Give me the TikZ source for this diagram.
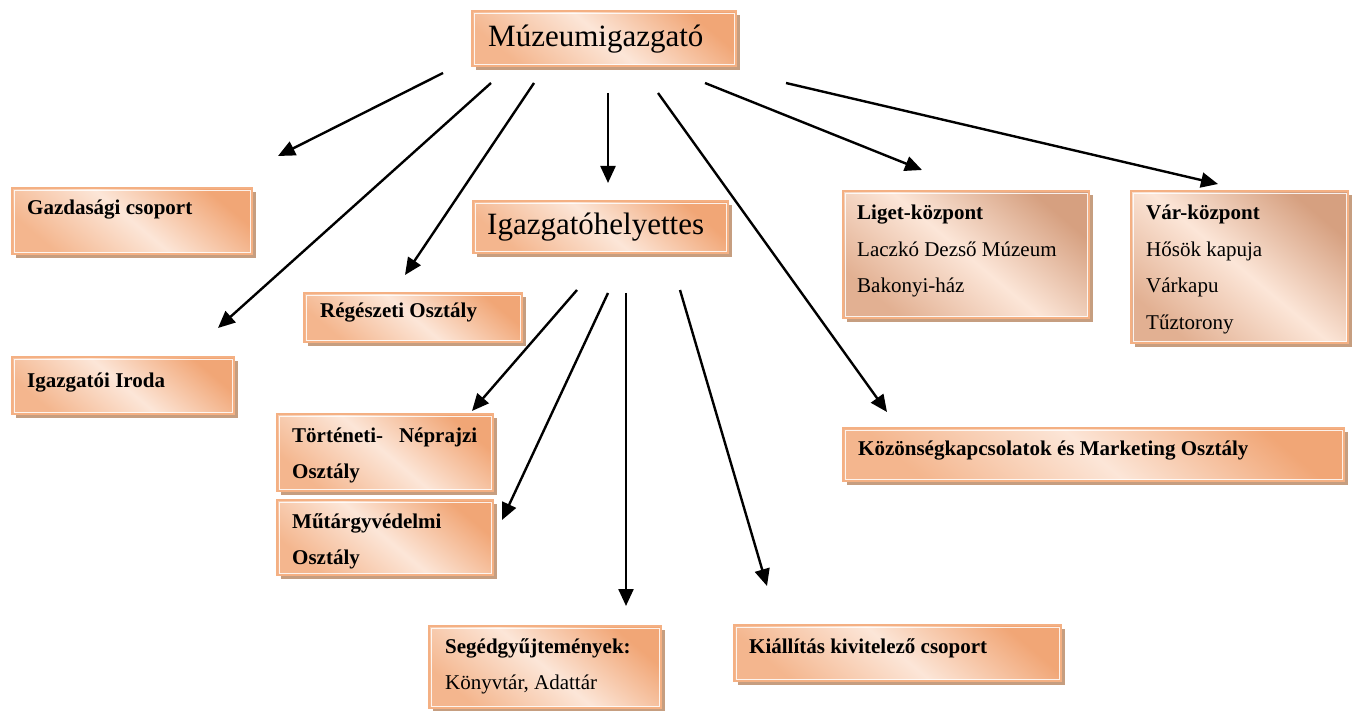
\documentclass[tikz,border=0pt]{standalone}
\usepackage{fontspec}
\setmainfont{Liberation Serif}
\usetikzlibrary{arrows.meta,shadows}
\definecolor{boxedge}{RGB}{244,176,131}
\definecolor{boxdark}{RGB}{241,166,118}
\definecolor{boxlight}{RGB}{252,230,216}
\definecolor{boxmid}{RGB}{244,182,142}
\definecolor{browndark}{RGB}{214,160,128}
\definecolor{brownmid}{RGB}{226,176,146}
\definecolor{shadowc}{RGB}{198,158,128}
\newcommand{\txtsize}{\fontsize{21}{36.5}\selectfont}
\newcommand{\bigsize}{\fontsize{31}{36}\selectfont}
\newcommand{\rows}[1]{\begin{tabular}[t]{@{}l@{}}#1\end{tabular}}
\tikzset{
  orgbox/.style={draw=boxedge, line width=2.2pt, anchor=north west, inner sep=0pt,
    bottom color=boxmid, top color=boxdark, middle color=boxlight, shading angle=-40,
    drop shadow={shadow xshift=4pt, shadow yshift=-4pt, fill=shadowc, opacity=1, draw=none},
    path picture={\draw[white, line width=0.9pt, opacity=0.85]
      ([shift={(2pt,-2pt)}]path picture bounding box.north west) rectangle
      ([shift={(-2pt,2pt)}]path picture bounding box.south east);}},
  brownbox/.style={orgbox, bottom color=brownmid, top color=browndark, middle color=boxlight, shading angle=-40},
  lbl/.style={anchor=base west, inner sep=0pt, font=\txtsize, align=left},
  biglbl/.style={anchor=base west, inner sep=0pt, font=\bigsize},
  arr/.style={line width=2.4pt, -{Triangle[length=17pt,width=15pt]}},
}
\begin{document}
\begin{tikzpicture}[x=1pt,y=1pt]
\useasboundingbox (0,0) rectangle (1357,-711);
% boxes
\node[orgbox, minimum width=264pt, minimum height=55pt] (muz) at (471,-10) {};
\node[orgbox, minimum width=240pt, minimum height=66pt] (gaz) at (11,-187) {};
\node[orgbox, minimum width=222pt, minimum height=57pt] (iro) at (11,-356) {};
\node[orgbox, minimum width=218pt, minimum height=49pt] (reg) at (303,-292) {};
\node[orgbox, minimum width=255pt, minimum height=52pt] (ih) at (472,-200) {};
\node[orgbox, minimum width=216pt, minimum height=77pt] (tort) at (276,-413) {};
\node[orgbox, minimum width=216pt, minimum height=75pt] (mut) at (276,-499) {};
\node[orgbox, minimum width=232pt, minimum height=82pt] (seg) at (428,-625) {};
\node[orgbox, minimum width=327pt, minimum height=56pt] (kia) at (733,-624) {};
\node[brownbox, minimum width=246pt, minimum height=127pt] (lig) at (842,-190) {};
\node[brownbox, minimum width=217pt, minimum height=152pt] (var) at (1130,-190) {};
\node[orgbox, minimum width=501pt, minimum height=53pt] (koz) at (842,-427) {};
% texts
\node[biglbl] (muzt) at ([shift={(17,-37)}]muz.north west) {Múzeumigazgató};
\node[biglbl] (iht) at ([shift={(15,-35)}]ih.north west) {Igazgatóhelyettes};
\node[lbl] (gazt) at ([shift={(16,-28)}]gaz.north west) {\bfseries Gazdasági csoport};
\node[lbl] (irot) at ([shift={(16,-31)}]iro.north west) {\bfseries Igazgatói Iroda};
\node[lbl] (regt) at ([shift={(17,-25)}]reg.north west) {\bfseries Régészeti Osztály};
\node[lbl] (tortt) at ([shift={(16,-29)}]tort.north west) {\rows{\bfseries\makebox[185pt][s]{Történeti-\ Néprajzi}\\ \bfseries Osztály}};
\node[lbl] (mutt) at ([shift={(16,-29)}]mut.north west) {\rows{\bfseries Műtárgyvédelmi\\ \bfseries Osztály}};
\node[lbl] (segt) at ([shift={(17,-28)}]seg.north west) {\rows{\bfseries Segédgyűjtemények:\\ Könyvtár, Adattár}};
\node[lbl] (kiat) at ([shift={(16,-29)}]kia.north west) {\bfseries Kiállítás kivitelező csoport};
\node[lbl] (ligt) at ([shift={(15,-30)}]lig.north west) {\rows{\bfseries Liget-központ\\ Laczkó Dezső Múzeum\\ Bakonyi-ház}};
\node[lbl] (vart) at ([shift={(16,-30)}]var.north west) {\rows{\bfseries Vár-központ\\ Hősök kapuja\\ Várkapu\\ Tűztorony}};
\node[lbl] (kozt) at ([shift={(16,-28)}]koz.north west) {\bfseries Közönségkapcsolatok és Marketing Osztály};
% arrow end points
\coordinate (s1) at (443,-73);  \coordinate (e1) at (278,-156);
\coordinate (s2) at (491,-83);  \coordinate (e2) at (218,-328);
\coordinate (s3) at (534,-83);  \coordinate (e3) at (405,-275);
\coordinate (s4) at (608,-93);  \coordinate (e4) at (608,-183);
\coordinate (s5) at (658,-93);  \coordinate (e5) at (887,-412);
\coordinate (s6) at (705,-83);  \coordinate (e6) at (922,-170);
\coordinate (s7) at (786,-83);  \coordinate (e7) at (1218,-184);
\coordinate (s8) at (577,-290); \coordinate (e8) at (472,-411);
\coordinate (s9) at (608,-293); \coordinate (e9) at (502,-520);
\coordinate (s10) at (626,-293); \coordinate (e10) at (626,-606);
\coordinate (s11) at (680,-290); \coordinate (e11) at (767,-586);
\foreach \i in {1,...,11} {\draw[arr] (s\i) -- (e\i);}
\end{tikzpicture}
\end{document}
